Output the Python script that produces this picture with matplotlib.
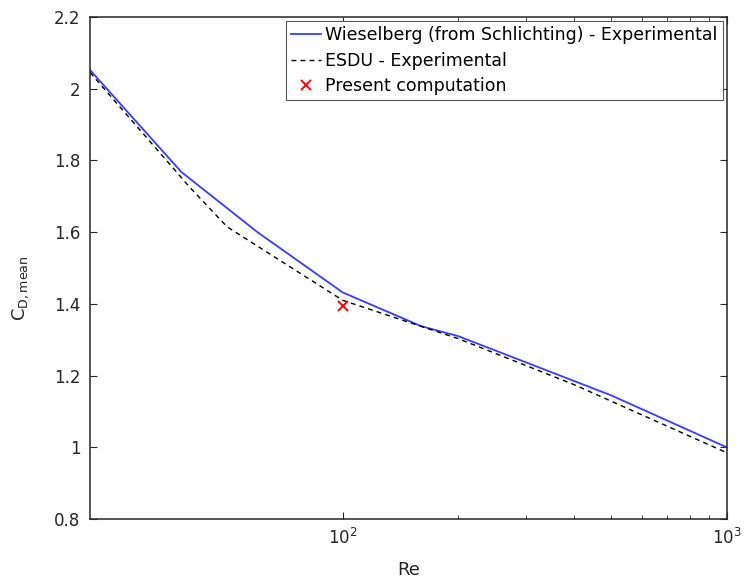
import numpy as np
import matplotlib
matplotlib.use("Agg")
import matplotlib.pyplot as plt
from matplotlib.ticker import FixedLocator, FuncFormatter, NullFormatter

# Wieselberg (from Schlichting) - experimental
re_wies = [22, 38, 60, 100, 160, 200, 500, 1000]
cd_wies = [2.052, 1.768, 1.60, 1.432, 1.338, 1.31, 1.145, 1.0]

# ESDU - experimental
re_esdu = [22, 40, 50, 100, 200, 400, 1000]
cd_esdu = [2.045, 1.725, 1.615, 1.41, 1.303, 1.175, 0.985]

# present computation
re_comp = [100]
cd_comp = [1.395]

plt.rcParams['font.family'] = ['DejaVu Sans']
plt.rcParams['mathtext.fontset'] = 'dejavusans'

fig = plt.figure(figsize=(7.44, 5.82), dpi=100)
ax = fig.add_axes([0.121, 0.108, 0.856, 0.863])

ax.plot(re_wies, cd_wies, color='#3b3bff', lw=1.3, label='Wieselberg (from Schlichting) - Experimental')
ax.plot(re_esdu, cd_esdu, color='black', ls=(0, (3.5, 3)), lw=1.0, label='ESDU - Experimental')
ax.plot(re_comp, cd_comp, 'x', color='red', ms=7, mew=1.4, ls='none', label='Present computation')

ax.set_xscale('log')
ax.set_xlim(22, 1000)
ax.set_ylim(0.8, 2.2)
ax.set_yticks(np.arange(0.8, 2.21, 0.2))
ax.yaxis.set_major_formatter(FuncFormatter(lambda v, p: '%g' % round(v, 2)))
ax.xaxis.set_major_locator(FixedLocator([100, 1000]))
ax.xaxis.set_minor_locator(FixedLocator([200, 300, 400, 500, 600, 700, 800, 900]))
ax.xaxis.set_minor_formatter(NullFormatter())

gray = '#262626'
for s in ax.spines.values():
    s.set_color(gray)
    s.set_linewidth(1.1)
ax.tick_params(which='both', direction='in', top=True, right=True, colors=gray,
               labelcolor=gray, labelsize=12)
ax.tick_params(which='major', length=5)
ax.tick_params(which='minor', length=3)
ax.tick_params(axis='y', pad=7)
ax.tick_params(axis='x', pad=6)

ax.set_xlabel('Re', fontsize=13, color=gray)
ax.set_ylabel(r'C$_{\mathrm{D,mean}}$', fontsize=13, color=gray)
ax.xaxis.set_label_coords(0.5, -0.083)
ax.yaxis.set_label_coords(-0.093, 0.46)

leg = ax.legend(loc='upper right', fontsize=12.5, frameon=True, fancybox=False,
                handlelength=1.75, handletextpad=0.2, borderpad=0.3,
                labelspacing=0.42, borderaxespad=0.25)
leg.get_frame().set_edgecolor('#555555')
leg.get_frame().set_linewidth(0.8)
leg.get_frame().set_alpha(1)

fig.savefig('out.png', dpi=100)
